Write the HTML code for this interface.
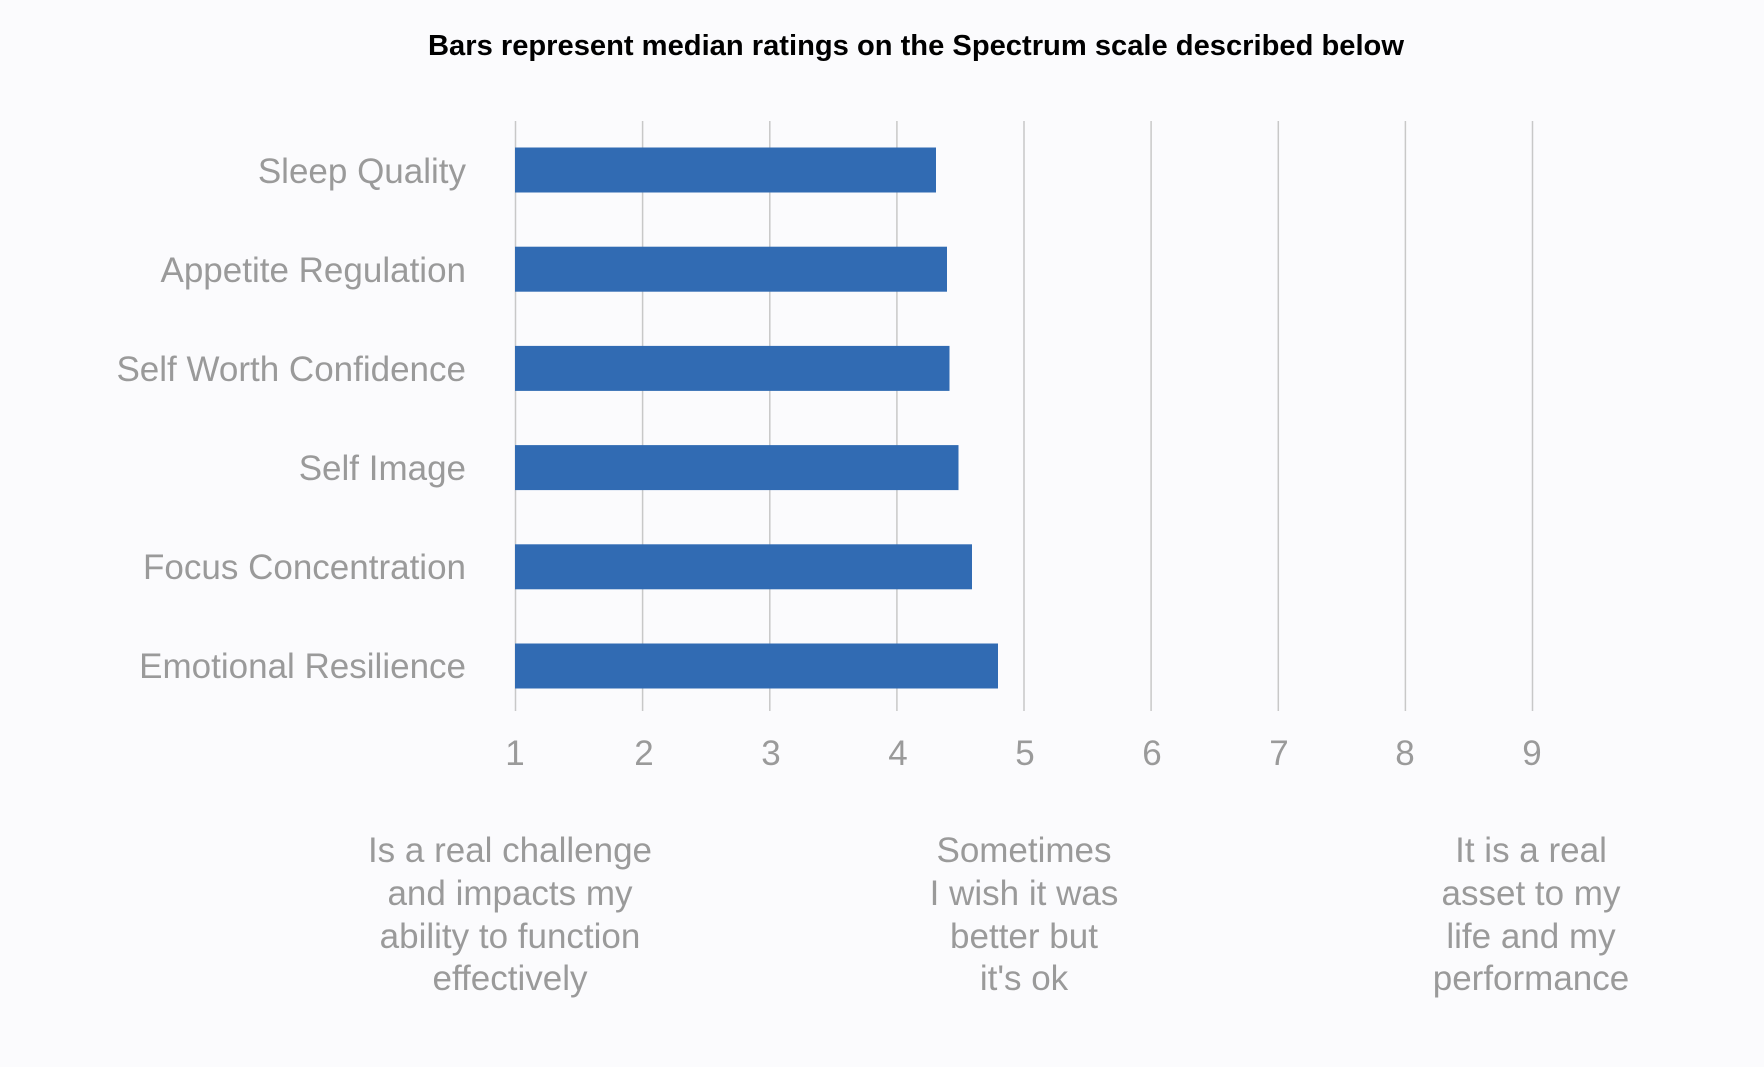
<!DOCTYPE html>
<html><head><meta charset="utf-8"><style>
html,body{margin:0;padding:0;background:#fbfbfd;}
svg{display:block;}
text{font-family:"Liberation Sans",sans-serif;}
</style></head><body>
<svg width="1764" height="1067" viewBox="0 0 1764 1067" xmlns="http://www.w3.org/2000/svg">
<rect width="1764" height="1067" fill="#fbfbfd"/>
<text x="916" y="55" text-anchor="middle" font-size="29" font-weight="bold" fill="#000" textLength="976" lengthAdjust="spacingAndGlyphs">Bars represent median ratings on the Spectrum scale described below</text>
<g stroke="#c8c8c8" stroke-width="1.5">
<line x1="515.5" y1="121" x2="515.5" y2="711"/>
<line x1="642.6" y1="121" x2="642.6" y2="711"/>
<line x1="769.8" y1="121" x2="769.8" y2="711"/>
<line x1="896.9" y1="121" x2="896.9" y2="711"/>
<line x1="1024" y1="121" x2="1024" y2="711"/>
<line x1="1151.1" y1="121" x2="1151.1" y2="711"/>
<line x1="1278.3" y1="121" x2="1278.3" y2="711"/>
<line x1="1405.4" y1="121" x2="1405.4" y2="711"/>
<line x1="1532.5" y1="121" x2="1532.5" y2="711"/>
</g>
<g fill="#316bb3">
<rect x="515" y="147.5" width="421" height="45"/>
<rect x="515" y="246.7" width="432" height="45"/>
<rect x="515" y="345.9" width="434.5" height="45"/>
<rect x="515" y="445.1" width="443.5" height="45"/>
<rect x="515" y="544.3" width="457" height="45"/>
<rect x="515" y="643.5" width="483" height="45"/>
</g>
<g font-size="35" fill="#9a9a9a" text-anchor="end">
<text x="466" y="183">Sleep Quality</text>
<text x="466" y="282">Appetite Regulation</text>
<text x="466" y="381">Self Worth Confidence</text>
<text x="466" y="480">Self Image</text>
<text x="466" y="579">Focus Concentration</text>
<text x="466" y="678">Emotional Resilience</text>
</g>
<g font-size="35" fill="#9a9a9a" text-anchor="middle">
<text x="515" y="765">1</text>
<text x="644" y="765">2</text>
<text x="771" y="765">3</text>
<text x="898" y="765">4</text>
<text x="1025" y="765">5</text>
<text x="1152" y="765">6</text>
<text x="1279" y="765">7</text>
<text x="1405" y="765">8</text>
<text x="1532" y="765">9</text>
</g>
<g font-size="35" fill="#9a9a9a" text-anchor="middle">
<text x="510" y="862">Is a real challenge</text>
<text x="510" y="905">and impacts my</text>
<text x="510" y="948">ability to function</text>
<text x="510" y="990">effectively</text>
<text x="1024" y="862">Sometimes</text>
<text x="1024" y="905">I wish it was</text>
<text x="1024" y="948">better but</text>
<text x="1024" y="990">it's ok</text>
<text x="1531" y="862">It is a real</text>
<text x="1531" y="905">asset to my</text>
<text x="1531" y="948">life and my</text>
<text x="1531" y="990">performance</text>
</g>
</svg>
</body></html>
